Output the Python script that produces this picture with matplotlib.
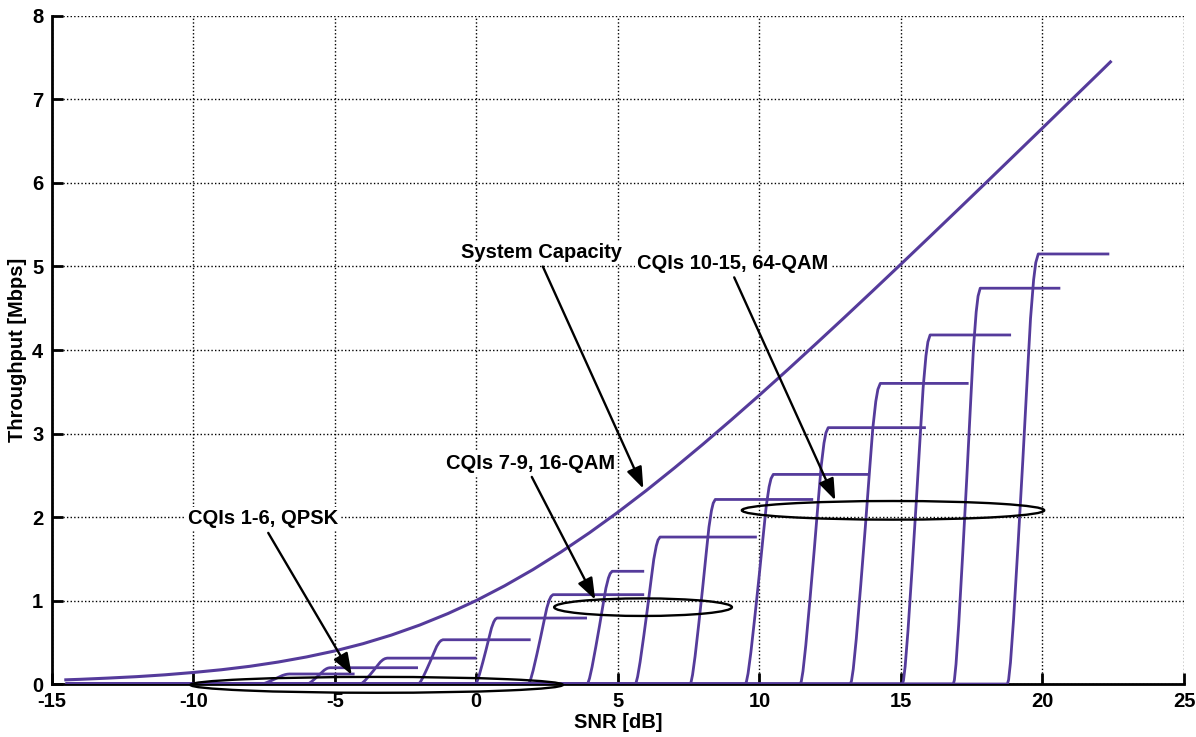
import numpy as np
import matplotlib
matplotlib.use('Agg')
import matplotlib.pyplot as plt
from matplotlib.patches import Ellipse

# system capacity curve at 1 dB steps
cap_snr = [-14.5, -14, -13, -12, -11, -10, -9, -8, -7, -6, -5, -4, -3, -2, -1,
           0, 1, 2, 3, 4, 5, 6, 7, 8, 9, 10, 11, 12, 13, 14, 15, 16, 17, 18,
           19, 20, 21, 22, 22.4]
cap_tput = [0.05, 0.056, 0.071, 0.088, 0.110, 0.138, 0.171, 0.212, 0.263,
            0.324, 0.396, 0.483, 0.586, 0.706, 0.844, 1.000, 1.176, 1.370,
            1.583, 1.812, 2.057, 2.316, 2.588, 2.870, 3.161, 3.459, 3.764,
            4.075, 4.389, 4.707, 5.028, 5.351, 5.676, 6.002, 6.330, 6.658,
            6.988, 7.317, 7.45]

# per-CQI step curves: plateau throughput, where the rise starts (foot),
# where it levels off (knee) and where the curve stops
cqi = list(range(1, 16))
plateau = [0.12, 0.195, 0.31, 0.53, 0.79, 1.07, 1.35, 1.76, 2.21, 2.51,
           3.07, 3.60, 4.18, 4.74, 5.15]
foot_snr = [-7.6, -5.98, -4.11, -2.06, -0.04, 1.83, 3.91, 5.61, 7.55, 9.50,
            11.44, 13.21, 15.05, 16.85, 18.76]
knee_snr = [-6.6, -5.17, -3.15, -1.18, 0.73, 2.71, 4.80, 6.49, 8.44, 10.49,
            12.43, 14.27, 16.03, 17.80, 19.85]
end_snr = [-4.3, -2.06, 0.01, 1.92, 3.91, 5.93, 5.93, 9.91, 11.9, 13.89,
           15.88, 17.39, 18.89, 20.63, 22.36]
start_snr = -14.5

# shape of one rise (fraction of the step vs fraction of foot->knee span)
rise_t = [0.0, 0.04, 0.1, 0.2, 0.35, 0.5, 0.65, 0.75, 0.85, 0.92, 1.0]
rise_f = [0.0, 0.01, 0.05, 0.15, 0.33, 0.52, 0.72, 0.85, 0.94, 0.98, 1.0]

purple = '#553b9b'
plt.rcParams['font.family'] = ['Liberation Sans', 'DejaVu Sans']
plt.rcParams['font.weight'] = 'bold'
plt.rcParams['axes.unicode_minus'] = False

fig = plt.figure(figsize=(11.96, 7.37), dpi=100)
ax = fig.add_axes([0.0432, 0.0719, 0.9468, 0.9064])

for i in range(len(cqi)):
    xs = [start_snr] + [foot_snr[i] + t * (knee_snr[i] - foot_snr[i]) for t in rise_t] + [end_snr[i]]
    ys = [0.0] + [plateau[i] * f for f in rise_f] + [plateau[i]]
    ax.plot(xs, ys, color=purple, lw=2.0, solid_capstyle='butt', zorder=3)

ax.plot(cap_snr, cap_tput, color=purple, lw=2.2, zorder=3)

# ellipses around the modulation groups
for (cx, cy, w, h) in [(-3.52, -0.01, 13.15, 0.19),
                       (5.89, 0.92, 6.28, 0.21),
                       (14.72, 2.08, 10.68, 0.223)]:
    e = Ellipse((cx, cy), w, h, fill=False, ec='black', lw=1.7,
                clip_on=False, zorder=4)
    ax.add_patch(e)

arrow = dict(arrowstyle='-|>,head_length=0.65,head_width=0.24', color='black',
             lw=1.7, shrinkA=0, shrinkB=0, mutation_scale=20)
notes = [('System Capacity', (2.31, 5.17), (2.35, 5.00), (5.90, 2.34)),
         ('CQIs 10-15, 64-QAM', (9.07, 5.04), (9.11, 4.87), (12.68, 2.20)),
         ('CQIs 7-9, 16-QAM', (1.90, 2.64), (1.96, 2.48), (4.20, 1.01)),
         ('CQIs 1-6, QPSK', (-7.53, 1.98), (-7.35, 1.81), (-4.40, 0.11))]
for label, txy, a0, a1 in notes:
    ax.text(txy[0], txy[1], label, ha='center', va='center', fontsize=14.5,
            fontweight='bold', zorder=5,
            bbox=dict(fc='white', ec='none', pad=1.5))
    ax.annotate('', xy=a1, xytext=a0, arrowprops=arrow, zorder=5)

ax.set_xlim(-15, 25)
ax.set_ylim(0, 8)
ax.set_xticks(range(-15, 26, 5))
ax.set_yticks(range(0, 9))
ax.grid(True, color='black', linestyle=(0, (1, 1.6)), lw=1.0)
ax.set_axisbelow(True)
for s in ['top', 'right']:
    ax.spines[s].set_visible(False)
for s in ['left', 'bottom']:
    ax.spines[s].set_linewidth(2.0)
ax.tick_params(direction='in', length=8, width=2, labelsize=14.5, pad=6)
ax.set_xlabel('SNR [dB]', fontsize=14.5, fontweight='bold', labelpad=1)
ax.set_ylabel('Throughput [Mbps]', fontsize=14.5, fontweight='bold', labelpad=4)

fig.savefig('out.png', dpi=100)
